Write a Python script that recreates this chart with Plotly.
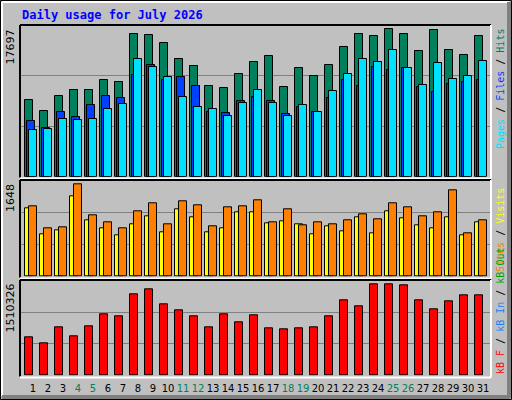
import plotly.graph_objects as go

days = list(range(1, 32))
hits = [9209, 7852, 9653, 10373, 10373, 11574, 11334, 17097, 16977, 16016, 14095, 13255, 10853, 10613, 12294, 13735,
        14455, 10733, 13015, 12054, 13375, 15536, 17097, 16856, 17697, 17097, 15056, 17577, 15176, 14575, 16856]
files = [6651, 5811, 7732, 7132, 8572, 9653, 9413, 12174, 13375, 11574, 11934, 10853, 7732, 7612, 9053, 9533,
         9053, 7492, 8332, 7732, 9413, 11574, 10853, 13135, 12774, 13015, 10733, 10133, 11094, 11334, 11574]
pages = [5571, 5691, 6891, 6771, 6891, 8092, 8692, 14095, 13135, 11934, 9533, 8332, 8092, 7252, 8812, 10373,
         8812, 7252, 8572, 7732, 10253, 12294, 14095, 13735, 15176, 13015, 10973, 13615, 11694, 12054, 13855]
visits = [1218, 752, 824, 1433, 1003, 860, 734, 931, 1075, 788, 1200, 1057, 788, 860, 1146, 1146,
          956, 992, 939, 759, 903, 813, 1064, 777, 1171, 1046, 921, 867, 1064, 741, 974]
sites = [1254, 860, 878, 1648, 1092, 967, 860, 1164, 1307, 931, 1343, 1272, 895, 1236, 1254, 1361,
         974, 1207, 921, 974, 939, 1010, 1118, 1028, 1315, 1243, 1082, 1153, 1547, 777, 1010]
kbytes = [630700, 531000, 797000, 647000, 813000, 1012000, 979000, 1344000, 1427000, 1178000, 1079000, 979000,
          797000, 1012000, 880000, 996000, 787000, 770000, 787000, 803000, 986000, 1251000, 1152000, 1510326,
          1508000, 1500000, 1251000, 1102000, 1235000, 1334000, 1334000]
weekend = {4, 5, 11, 12, 18, 19, 25, 26}
top_label, mid_label, bot_label = "17697", "1648", "1510326"

W, H = 512, 400
def yd(top, bot):
    return [1 - bot / H, 1 - top / H]

fig = go.Figure()
line = dict(color="black", width=1)
def bar(x_axis, y_axis, y, color, off, wid):
    fig.add_trace(go.Bar(x=days, y=y, marker=dict(color=color, line=line), offset=off, width=wid,
                         xaxis=x_axis, yaxis=y_axis, showlegend=False, hoverinfo="skip"))

bar("x", "y", hits, "#00805c", -0.51, 0.49)
bar("x", "y", files, "#0040ff", -0.38, 0.49)
bar("x", "y", pages, "#00e0ff", -0.25, 0.49)
bar("x2", "y2", visits, "#ffff00", -0.51, 0.49)
bar("x2", "y2", sites, "#ff8000", -0.25, 0.49)
bar("x3", "y3", kbytes, "#ff0000", -0.51, 0.49)

xr = [1 - 13 / 15, 1 - 13 / 15 + 470 / 15]
xdom = [20 / W, 490 / W]
ticktext = [f"<span style='color:{'#00805c' if d in weekend else 'black'}'>{d}</span>" for d in days]
common_x = dict(range=xr, domain=xdom, showgrid=False, zeroline=False, fixedrange=True)
def yax(dom, mx):
    return dict(domain=dom, range=[0, mx], tickvals=[mx / 3, 2 * mx / 3], showticklabels=False,
                gridcolor="#808080", gridwidth=1, zeroline=False, ticks="")
fig.update_layout(
    width=W, height=H, margin=dict(l=0, r=0, t=0, b=0, autoexpand=False),
    paper_bgcolor="#c0c0c0", plot_bgcolor="#c0c0c0", barmode="overlay", bargap=0,
    xaxis=dict(**common_x, anchor="y", showticklabels=False),
    xaxis2=dict(**common_x, anchor="y2", showticklabels=False),
    xaxis3=dict(**common_x, anchor="y3", tickvals=days, ticktext=ticktext, ticks="", tickangle=0,
                automargin=False, ticklabelstandoff=5,
                tickfont=dict(family="DejaVu Sans", size=10, color="black")),
    yaxis=yax(yd(25, 176.7), 18213),
    yaxis2=yax(yd(180.3, 276.5), 1720),
    yaxis3=yax(yd(280.3, 375.5), 1576700),
    font=dict(family="DejaVu Sans"),
)

shapes = []
def px_line(x0, y0, x1, y1, color, w=1):
    shapes.append(dict(type="line", xref="paper", yref="paper", x0=x0 / W, x1=x1 / W,
                       y0=1 - y0 / H, y1=1 - y1 / H, line=dict(color=color, width=w), layer="above"))
for t, b in [(25, 177.5), (180, 277.5), (280, 376.5)]:
    px_line(20, t, 491, t, "black", 2)
    px_line(20, t, 20, b, "black", 2)
    px_line(20, b + 1, 491, b + 1, "white", 2)
    px_line(491, t, 491, b + 1, "white", 2)
px_line(0.5, 0.5, 511.5, 0.5, "black")
px_line(0.5, 0.5, 0.5, 399.5, "black")
px_line(511.5, 0.5, 511.5, 399.5, "black")
px_line(0.5, 399.5, 511.5, 399.5, "black")
px_line(2, 2, 509, 2, "white", 2)
px_line(2, 2, 2, 396, "white", 2)
px_line(2, 397, 510, 397, "#808080", 4)
px_line(509, 2, 509, 398, "#808080", 4)
fig.update_layout(shapes=shapes)

anns = [dict(x=20 / W, y=1 - 15 / H, xref="paper", yref="paper", xanchor="left", yanchor="middle",
             text="<b>Daily usage for July 2026</b>", showarrow=False,
             font=dict(family="DejaVu Sans Mono", size=12, color="#0000ff"))]
for txt, ytop in [(top_label, 28), (mid_label, 182), (bot_label, 282)]:
    anns.append(dict(x=10 / W, y=1 - ytop / H, xref="paper", yref="paper", xanchor="center", yanchor="top",
                     text=txt, textangle=-90, showarrow=False, font=dict(size=11, color="black")))
sep = "<span style='color:black'> / </span>"
legends = [
    (27, "top", f"<span style='color:#00e0ff'>Pages</span>{sep}<span style='color:#0040ff'>Files</span>{sep}<span style='color:#00805c'>Hits</span>"),
    (274, "bottom", f"<span style='color:#ff8000'>Sites</span>{sep}<span style='color:#ffff00'>Visits</span>"),
    (376, "bottom", f"<span style='color:#ff0000'>kB F</span>{sep}<span style='color:#2080ff'>kB In</span>{sep}<span style='color:#00a000'>kB Out</span>"),
]
for ypx, anc, txt in legends:
    anns.append(dict(x=500 / W, y=1 - ypx / H, xref="paper", yref="paper", xanchor="center", yanchor=anc,
                     text=txt, textangle=-90, showarrow=False,
                     font=dict(family="DejaVu Sans Mono", size=10)))
fig.update_layout(annotations=anns)
fig.write_html("out.html", config={"displayModeBar": False},
               post_script="document.body.style.margin='0';document.body.style.overflow='hidden';")
